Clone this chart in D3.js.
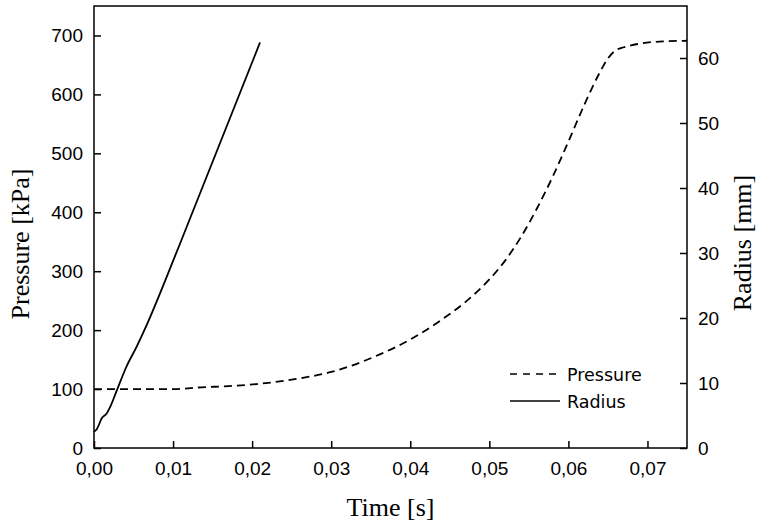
<!DOCTYPE html>
<html><head><meta charset="utf-8">
<script src="https://cdn.jsdelivr.net/npm/d3@7"></script>
<style>body{margin:0;background:#fff}svg{display:block}</style>
</head><body>
<svg id="c" width="758" height="524"></svg>
<script>
const xTicks = [0, 0.01, 0.02, 0.03, 0.04, 0.05, 0.06, 0.07];
const pTicks = [0, 100, 200, 300, 400, 500, 600, 700];
const rTicks = [0, 10, 20, 30, 40, 50, 60];

const timeR  = [0, 0.0003, 0.001, 0.0016, 0.002, 0.0029, 0.0041, 0.0054, 0.0064, 0.0109, 0.021];
const radius = [2.5, 2.8, 4.6, 5.3, 6.2, 8.9, 12.5, 15.6, 18.2, 31.5, 62.4];

const timeP    = [0, 0.005, 0.010, 0.0136, 0.017, 0.021, 0.025, 0.030, 0.036, 0.040, 0.044, 0.047, 0.050, 0.052, 0.054, 0.056, 0.058, 0.060, 0.062, 0.064, 0.065, 0.066, 0.067, 0.069, 0.072, 0.075];
const pressure = [100, 100, 100, 103, 105, 109, 116, 129, 158, 184, 218, 248, 286, 318, 358, 406, 460, 520, 582, 638, 661, 675, 680, 686, 690, 691];

const seriesNames = ["Pressure", "Radius"];

const L = 94, R = 687, T = 6, B = 448;
const svg = d3.select("#c");
const x = d3.scaleLinear().domain([0, 0.075]).range([L, R]);
const yP = d3.scaleLinear().domain([0, 750]).range([B, T]);
const yR = d3.scaleLinear().domain([0, 68]).range([B, T]);

const tickFont = "'Liberation Sans', Arial, sans-serif";
const titleFont = "'Liberation Serif', 'Times New Roman', serif";

function styleAxis(g){
  g.select(".domain").remove();
  g.selectAll(".tick line").attr("stroke", "#000").attr("stroke-width", 1.5);
  g.selectAll(".tick text").attr("fill", "#000").style("font-family", tickFont).style("font-size", "19px");
}

svg.append("g").attr("transform", `translate(0,${B})`)
  .call(d3.axisBottom(x).tickValues(xTicks).tickSize(-7).tickPadding(14)
        .tickFormat(d => d3.format(".2f")(d).replace(".", ",")))
  .call(styleAxis);
svg.append("g").attr("transform", `translate(${L},0)`)
  .call(d3.axisLeft(yP).tickValues(pTicks).tickSize(-7).tickPadding(11).tickFormat(d3.format("d")))
  .call(styleAxis);
svg.append("g").attr("transform", `translate(${R},0)`)
  .call(d3.axisRight(yR).tickValues(rTicks).tickSize(-7).tickPadding(11).tickFormat(d3.format("d")))
  .call(styleAxis);

svg.append("rect").attr("x", L).attr("y", T).attr("width", R - L).attr("height", B - T)
  .attr("fill", "none").attr("stroke", "#000").attr("stroke-width", 1.5);

const lineP = d3.line().x(d => x(d[0])).y(d => yP(d[1])).curve(d3.curveMonotoneX);
const lineR = d3.line().x(d => x(d[0])).y(d => yR(d[1])).curve(d3.curveMonotoneX);

svg.append("path").datum(timeP.map((t, i) => [t, pressure[i]]))
  .attr("d", lineP).attr("fill", "none").attr("stroke", "#000").attr("stroke-width", 1.8)
  .attr("stroke-dasharray", "8,5");
svg.append("path").datum(timeR.map((t, i) => [t, radius[i]]))
  .attr("d", lineR).attr("fill", "none").attr("stroke", "#000").attr("stroke-width", 1.8);

// legend
const leg = svg.append("g");
seriesNames.forEach((n, i) => {
  const yy = 374 + i * 27;
  leg.append("line").attr("x1", 510).attr("x2", 560).attr("y1", yy).attr("y2", yy)
    .attr("stroke", "#000").attr("stroke-width", 1.5)
    .attr("stroke-dasharray", i === 0 ? "7,6" : null);
  leg.append("text").attr("x", 567).attr("y", yy + 7).text(n)
    .style("font-family", "'DejaVu Sans', Tahoma, sans-serif").style("font-size", "17.5px");
});

// titles
svg.append("text").attr("x", (L + R) / 2).attr("y", 516).attr("text-anchor", "middle")
  .style("font-family", titleFont).style("font-size", "26px").text("Time [s]");
svg.append("text").attr("transform", `translate(29,244) rotate(-90)`)
  .attr("text-anchor", "middle")
  .style("font-family", titleFont).style("font-size", "26px").text("Pressure [kPa]");
svg.append("text").attr("transform", `translate(751,243) rotate(-90)`)
  .attr("text-anchor", "middle")
  .style("font-family", titleFont).style("font-size", "26px").text("Radius [mm]");
</script>
</body></html>
